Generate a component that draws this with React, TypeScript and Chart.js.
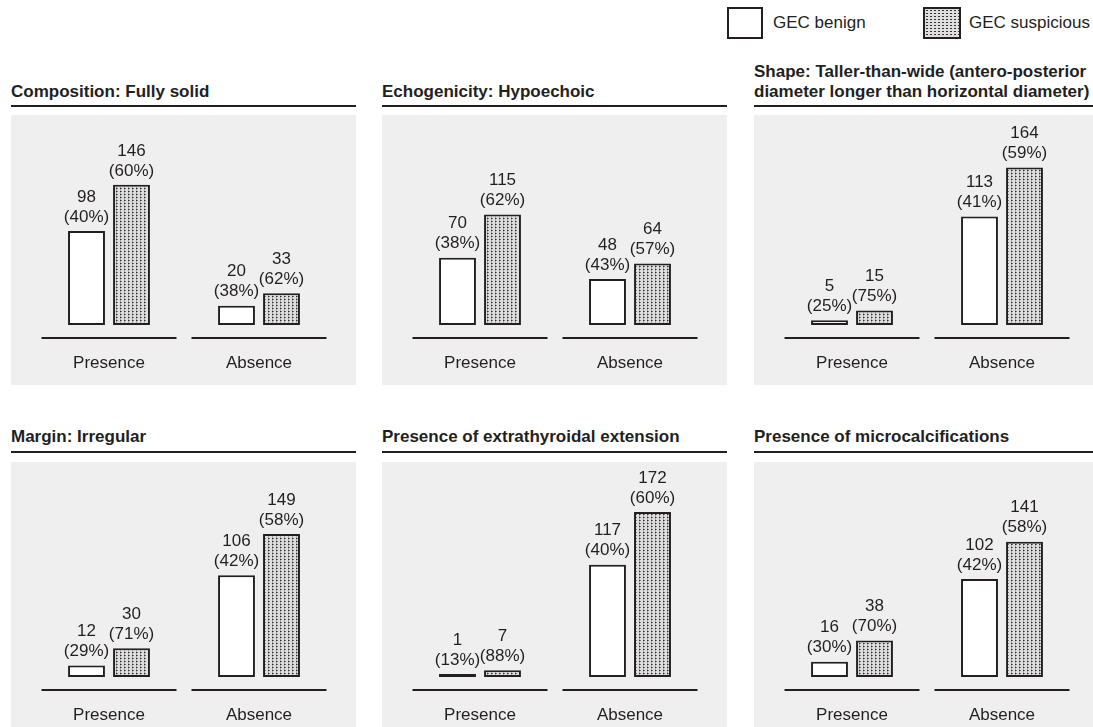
import { useEffect, useRef } from "react"
import { Chart, registerables } from "chart.js"

Chart.register(...registerables)

// categories and series
const categories = ["Presence", "Absence"]
const panelTitles = [
  ["Composition: Fully solid"],
  ["Echogenicity: Hypoechoic"],
  ["Shape: Taller-than-wide (antero-posterior", "diameter longer than horizontal diameter)"],
  ["Margin: Irregular"],
  ["Presence of extrathyroidal extension"],
  ["Presence of microcalcifications"],
]
const benignCounts = [
  [98, 20],
  [70, 48],
  [5, 113],
  [12, 106],
  [1, 117],
  [16, 102],
]
const suspiciousCounts = [
  [146, 33],
  [115, 64],
  [15, 164],
  [30, 149],
  [7, 172],
  [38, 141],
]
const benignPercents = [
  [40, 38],
  [38, 43],
  [25, 41],
  [29, 42],
  [13, 40],
  [30, 42],
]
const suspiciousPercents = [
  [60, 62],
  [62, 57],
  [75, 59],
  [71, 58],
  [88, 60],
  [70, 58],
]
const seriesLabels = ["GEC benign", "GEC suspicious"]

const INK = "#231f20"
const FONT = '"Liberation Sans", Arial, Helvetica, sans-serif'
const FONT_SIZE = 17
const PANEL_W = 345
const Y_MAX = 200

function makeDotPattern(): CanvasPattern | string {
  const tile = document.createElement("canvas")
  tile.width = 4
  tile.height = 3
  const t = tile.getContext("2d")
  if (!t) return "#b0b0b0"
  t.fillStyle = "#dedede"
  t.fillRect(0, 0, 4, 3)
  t.fillStyle = "#a8a8a8"
  t.fillRect(1, 0, 1, 1)
  t.fillRect(1, 2, 1, 1)
  t.fillStyle = "#777777"
  t.fillRect(2, 1, 1, 1)
  t.fillStyle = "#2e2e2e"
  t.fillRect(1, 1, 1, 1)
  const p = t.createPattern(tile, "repeat")
  return p || "#b0b0b0"
}

interface PanelChartProps {
  index: number
  height: number
  baseline: number
}

function PanelChart({ index, height, baseline }: PanelChartProps) {
  const chartRef = useRef<HTMLCanvasElement>(null)
  const chartInstance = useRef<Chart | null>(null)

  useEffect(() => {
    if (!chartRef.current) return
    const ctx = chartRef.current.getContext("2d")
    if (!ctx) return

    const percents = [benignPercents[index], suspiciousPercents[index]]

    // baseline segments, category labels and count/percent labels
    const annotate = {
      id: "annotate",
      afterDatasetsDraw(chart: Chart) {
        const c = chart.ctx
        const xScale = chart.scales.x
        const yScale = chart.scales.y
        const base = yScale.getPixelForValue(0)
        const half = (xScale.width / categories.length) * 0.45
        c.save()
        c.strokeStyle = INK
        c.lineWidth = 2
        c.fillStyle = INK
        c.font = `${FONT_SIZE}px ${FONT}`
        c.textAlign = "center"
        c.textBaseline = "middle"
        categories.forEach((cat, i) => {
          const cx = xScale.getPixelForValue(i)
          c.beginPath()
          c.moveTo(cx - half, base + 13)
          c.lineTo(cx + half, base + 13)
          c.stroke()
          c.fillText(cat, cx, base + 38)
        })
        chart.data.datasets.forEach((ds, d) => {
          const meta = chart.getDatasetMeta(d)
          meta.data.forEach((bar, i) => {
            const value = ds.data[i] as number
            c.fillText(String(value), bar.x, bar.y - 34)
            c.fillText(`(${percents[d][i]}%)`, bar.x, bar.y - 14)
          })
        })
        c.restore()
      },
    }

    if (chartInstance.current) {
      chartInstance.current.destroy()
    }

    const common = {
      borderColor: INK,
      borderWidth: 2,
      borderSkipped: false as const,
      categoryPercentage: 0.6,
      barPercentage: 0.82,
      minBarLength: 3,
    }

    chartInstance.current = new Chart(ctx, {
      type: "bar",
      data: {
        labels: categories,
        datasets: [
          { label: seriesLabels[0], data: benignCounts[index], backgroundColor: "#ffffff", ...common },
          { label: seriesLabels[1], data: suspiciousCounts[index], backgroundColor: makeDotPattern() as any, ...common },
        ],
      },
      options: {
        responsive: false,
        animation: false,
        layout: {
          padding: { left: 23, right: 22, top: baseline - 192, bottom: height - baseline },
        },
        plugins: {
          legend: { display: false },
          tooltip: { enabled: false },
        },
        scales: {
          x: { display: false },
          y: { display: false, min: 0, max: Y_MAX },
        },
      },
      plugins: [annotate],
    })

    return () => {
      if (chartInstance.current) {
        chartInstance.current.destroy()
        chartInstance.current = null
      }
    }
  }, [index, height, baseline])

  return <canvas ref={chartRef} width={PANEL_W} height={height} style={{ display: "block" }} />
}

const panelLefts = [11, 382, 754]
const rows = [
  { titleY: 92, ruleY: 106, boxTop: 115, boxHeight: 270, baseline: 210 },
  { titleY: 437, ruleY: 452, boxTop: 462, boxHeight: 265, baseline: 215 },
]

export default function App() {
  return (
    <div
      style={{
        position: "absolute",
        left: 0,
        top: 0,
        width: 1093,
        height: 727,
        overflow: "hidden",
        background: "#ffffff",
        fontFamily: FONT,
        color: INK,
      }}
    >
      {/* legend */}
      <div
        style={{
          position: "absolute",
          left: 727,
          top: 7,
          width: 36,
          height: 32,
          boxSizing: "border-box",
          border: `2px solid ${INK}`,
          background: "#ffffff",
        }}
      />
      <div style={{ position: "absolute", left: 773, top: 13, fontSize: FONT_SIZE, lineHeight: "20px" }}>
        {seriesLabels[0]}
      </div>
      <div
        style={{
          position: "absolute",
          left: 923,
          top: 7,
          width: 38,
          height: 32,
          boxSizing: "border-box",
          border: `2px solid ${INK}`,
          backgroundColor: "#dedede",
          backgroundImage: "radial-gradient(circle, #333333 0.7px, transparent 1.1px)",
          backgroundSize: "4px 3px",
        }}
      />
      <div style={{ position: "absolute", left: 969, top: 13, fontSize: FONT_SIZE, lineHeight: "20px" }}>
        {seriesLabels[1]}
      </div>

      {panelTitles.map((lines, i) => {
        const row = rows[Math.floor(i / 3)]
        const left = panelLefts[i % 3]
        return (
          <div key={i}>
            <div
              style={{
                position: "absolute",
                left,
                top: row.titleY - 10 - (lines.length - 1) * 20,
                width: PANEL_W,
                fontSize: FONT_SIZE,
                fontWeight: "bold",
                lineHeight: "20px",
                whiteSpace: "nowrap",
              }}
            >
              {lines.map((l, j) => (
                <div key={j}>{l}</div>
              ))}
            </div>
            <div
              style={{
                position: "absolute",
                left,
                top: row.ruleY - 1,
                width: PANEL_W,
                height: 2,
                background: INK,
              }}
            />
            <div
              style={{
                position: "absolute",
                left,
                top: row.boxTop,
                width: PANEL_W,
                height: row.boxHeight,
                background: "#efeff0",
              }}
            >
              <PanelChart index={i} height={row.boxHeight} baseline={row.baseline} />
            </div>
          </div>
        )
      })}
    </div>
  )
}
